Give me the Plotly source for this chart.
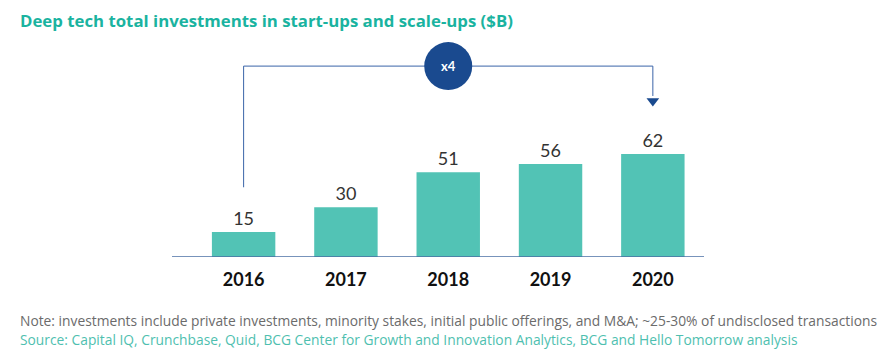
import plotly.graph_objects as go

years = ["2016", "2017", "2018", "2019", "2020"]
values = [15, 30, 51, 56, 62]
labels = ["15", "30", "51", "56", "62"]
multiplier = "x4"
title = "Deep tech total investments in start-ups and scale-ups ($B)"
note = "Note: investments include private investments, minority stakes, initial public offerings, and M&A; ~25-30% of undisclosed transactions"
source = "Source: Capital IQ, Crunchbase, Quid, BCG Center for Growth and Innovation Analytics, BCG and Hello Tomorrow analysis"

TEAL = "#52c3b5"
NAVY = "#1a4a8f"
LINE = "#3a64a8"

W, H = 896, 352
ml, mr, mt, mb = 172, 192, 20, 95
pw = W - ml - mr

fig = go.Figure()
fig.add_trace(go.Bar(
    x=list(range(len(years))), y=values, text=labels, textposition="outside",
    textfont=dict(family="Lato", size=18, color="#333333"),
    marker=dict(color=TEAL, line=dict(width=0)), width=0.62, cliponaxis=False,
    hoverinfo="skip"))

# arrow head over 2020
fig.add_trace(go.Scatter(x=[4], y=[94], mode="markers",
                         marker=dict(symbol="triangle-down", size=11, color=NAVY),
                         hoverinfo="skip"))

y_line = 115
fig.add_shape(type="line", x0=0, x1=0, y0=42, y1=y_line, line=dict(color=LINE, width=1))
fig.add_shape(type="line", x0=0, x1=4, y0=y_line, y1=y_line, line=dict(color=LINE, width=1))
fig.add_shape(type="line", x0=4, x1=4, y0=y_line, y1=97, line=dict(color=LINE, width=1))
fig.add_shape(type="circle", xref="x", yref="y", xsizemode="pixel", ysizemode="pixel",
              xanchor=2, yanchor=y_line, x0=-24, x1=24, y0=-24, y1=24,
              fillcolor=NAVY, line=dict(width=0))
fig.add_annotation(x=2, y=y_line, text="<b>" + multiplier + "</b>", showarrow=False,
                   font=dict(family="Lato", size=13, color="white"))

# baseline
fig.add_shape(type="line", xref="paper", yref="y", x0=0, x1=1, y0=0, y1=0,
              line=dict(color="#4a6fa5", width=1.5))

fig.add_annotation(xref="paper", yref="paper", x=-(ml - 18) / pw, y=1 + (mt - 20) / (H - mt - mb),
                   xanchor="left", yanchor="middle", showarrow=False,
                   text="<b>" + title + "</b>",
                   font=dict(family="Open Sans", size=16.8, color="#1ab3a0"))
fig.add_annotation(xref="paper", yref="paper", x=-(ml - 18) / pw, y=-(320 - (H - mb)) / (H - mt - mb),
                   xanchor="left", yanchor="middle", showarrow=False, text=note,
                   font=dict(family="Open Sans", size=13.8, color="#6b6b6b"))
fig.add_annotation(xref="paper", yref="paper", x=-(ml - 18) / pw, y=-(339 - (H - mb)) / (H - mt - mb),
                   xanchor="left", yanchor="middle", showarrow=False, text=source,
                   font=dict(family="Open Sans", size=13.8, color="#4fbfb0"))

fig.update_layout(
    width=W, height=H, margin=dict(l=ml, r=mr, t=mt, b=mb),
    paper_bgcolor="white", plot_bgcolor="white", showlegend=False,
    xaxis=dict(range=[-0.7, 4.5], tickvals=list(range(len(years))), ticktext=["<b>" + y + "</b>" for y in years],
               tickfont=dict(family="Lato", size=18, color="#111111"), showgrid=False,
               zeroline=False, showline=False, ticks="", ticklabelstandoff=10, fixedrange=True),
    yaxis=dict(range=[0, (H - mt - mb) / 1.66], visible=False, fixedrange=True),
)

fig.write_html("out.html")
